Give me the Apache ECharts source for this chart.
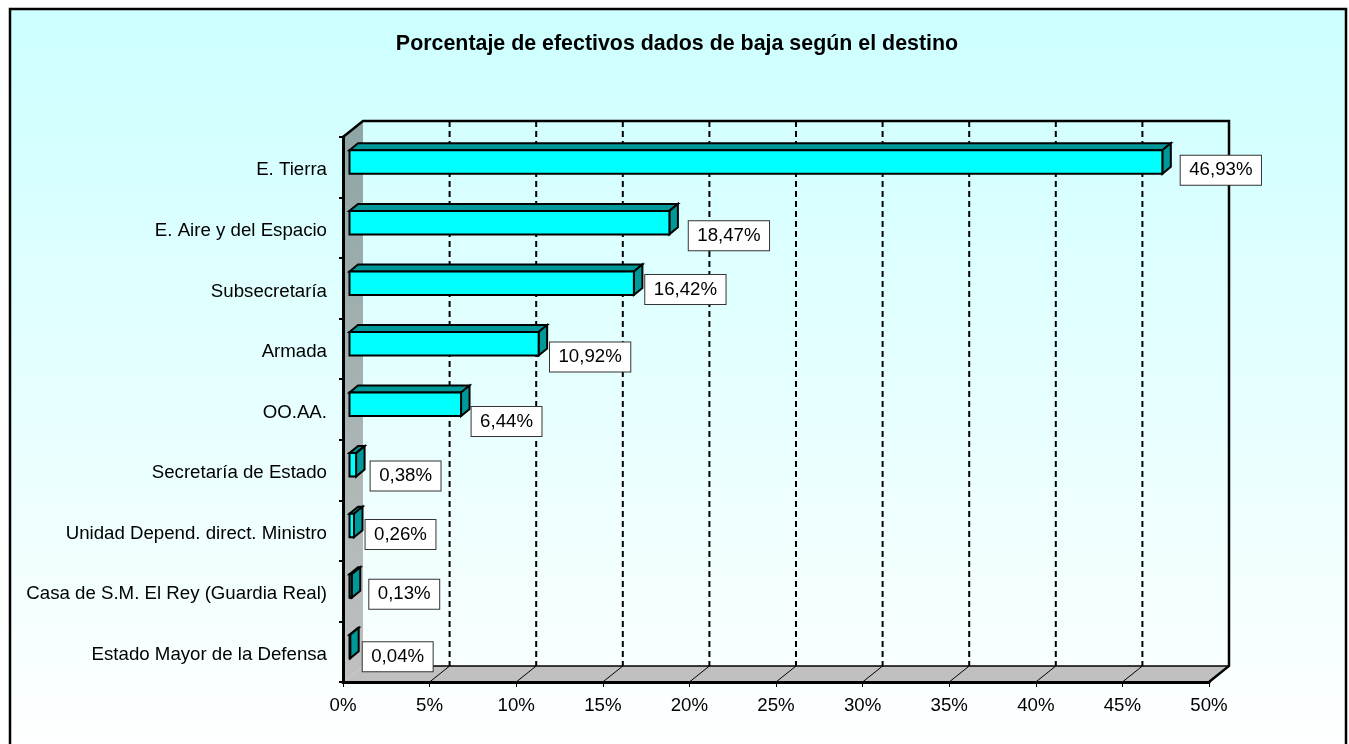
<!DOCTYPE html>
<html><head><meta charset="utf-8">
<style>html,body{margin:0;padding:0;background:#fff}#c{width:1349px;height:744px}</style>
<script src="https://cdn.jsdelivr.net/npm/echarts@6/dist/echarts.min.js"></script>
</head><body><div id="c"></div>
<script>
const titleText = 'Porcentaje de efectivos dados de baja según el destino';
const categories = ['E. Tierra','E. Aire y del Espacio','Subsecretaría','Armada','OO.AA.','Secretaría de Estado','Unidad Depend. direct. Ministro','Casa de S.M. El Rey (Guardia Real)','Estado Mayor de la Defensa'];
const values = [46.93,18.47,16.42,10.92,6.44,0.38,0.26,0.13,0.04];
const valueLabels = ['46,93%','18,47%','16,42%','10,92%','6,44%','0,38%','0,26%','0,13%','0,04%'];
const labelOffsetX = [65,66,58,58,52,56,53,59,54];
const labelOffsetY = [3,8,1,8,12,6,4,3,5];
const gridTicks = [5,10,15,20,25,30,35,40,45];

const DX = 20, DY = 16, FONT = '"Liberation Sans", Arial, sans-serif';
const BAR_SHIFT_X = 6.5, BAR_SHIFT_Y = 5.2, BAR_H = 23.5, BAR_DX = 8.5, BAR_DY = 7;

function poly(points, fill, stroke, lw, z){
  return {type:'polygon', z2:z||0, shape:{points}, style:{fill:fill, stroke:stroke||null, lineWidth:lw||0, lineJoin:'miter'}};
}
function line(x1,y1,x2,y2,lw,dash,z){
  return {type:'line', z2:z||0, shape:{x1,y1,x2,y2}, style:{stroke:'#000', lineWidth:lw, lineDash:dash||null, fill:null}};
}
function renderWalls(params, api){
  const cs = params.coordSys, L = cs.x, T = cs.y, B = cs.y+cs.height, R = cs.x+cs.width;
  const c = [];
  c.push(poly([[L,T],[L+DX,T-DY],[L+DX,B-DY],[L,B]],
    new echarts.graphic.LinearGradient(0,0,0,1,[{offset:0,color:'#8fa5a5'},{offset:1,color:'#c0c0c0'}])));
  c.push(poly([[L,B],[L+DX,B-DY],[R+DX,B-DY],[R,B]],'#c0c0c0'));
  gridTicks.forEach(t=>{
    const x = api.coord([t,0])[0];
    c.push(line(x+DX,T-DY,x+DX,B-DY,2,[6,4]));
    c.push(line(x,B,x+DX,B-DY,1));
  });
  c.push(line(L+DX,B-DY,R+DX,B-DY,1.5));
  c.push({type:'polyline', z2:2, shape:{points:[[L,T],[L+DX,T-DY],[R+DX,T-DY],[R+DX,B-DY],[R,B]]},
    style:{stroke:'#000',lineWidth:2.5,fill:null}});
  return {type:'group',children:c};
}
function renderBars(params, api){
  const i = api.value(1), p = api.coord([api.value(0), i]), o = api.coord([0, i]);
  const xa = o[0]+BAR_SHIFT_X, xb = p[0]+BAR_SHIFT_X, cy = p[1]-BAR_SHIFT_Y;
  const t = cy-BAR_H/2, b = cy+BAR_H/2;
  const s = '#000', dark = '#009999';
  return {type:'group',children:[
    poly([[xa,t],[xa+BAR_DX,t-BAR_DY],[xb+BAR_DX,t-BAR_DY],[xb,t]],dark,s,2),
    poly([[xb,t],[xb+BAR_DX,t-BAR_DY],[xb+BAR_DX,b-BAR_DY],[xb,b]],dark,s,2),
    poly([[xa,t],[xb,t],[xb,b],[xa,b]],'#00ffff',s,2)
  ]};
}
function renderLabels(params, api){
  const i = api.value(1), p = api.coord([api.value(0), i]);
  const cx = p[0]+labelOffsetX[i], cy = p[1]+labelOffsetY[i];
  return {type:'text', x:cx, y:cy, style:{text:valueLabels[i], fill:'#000', font:'18.67px '+FONT,
    align:'center', verticalAlign:'middle', lineHeight:21, backgroundColor:'#fff', borderColor:'#333', borderWidth:1,
    padding:[4,8.5,4,8.5]}};
}
const barData = values.map((v,i)=>[v,i]);
const chart = echarts.init(document.getElementById('c'),null,{renderer:'canvas'});
chart.setOption({
  animation:false,
  title:{show:true,text:titleText,left:672,top:29,textAlign:'center',textStyle:{fontFamily:FONT,fontSize:21.4,fontWeight:'bold',color:'#000'}},
  graphic:[{type:'rect',z:-100,shape:{x:10,y:9,width:1336,height:745},
    style:{fill:new echarts.graphic.LinearGradient(0,0,0,1,[{offset:0,color:'#ccffff'},{offset:1,color:'#ffffff'}]),stroke:'#000',lineWidth:2.5}}],
  grid:{left:343,right:140,top:137,bottom:62,containLabel:false},
  xAxis:{type:'value',min:0,max:50,interval:5,z:10,
    axisLine:{show:true,lineStyle:{color:'#000',width:3}},
    axisTick:{show:true,length:5,lineStyle:{color:'#000',width:1}},
    splitLine:{show:false},
    axisLabel:{margin:14,formatter:'{value}%',fontFamily:FONT,fontSize:18.67,color:'#000'}},
  yAxis:{type:'category',inverse:true,data:categories,z:10,
    axisLine:{show:true,onZero:false,lineStyle:{color:'#000',width:3}},
    axisTick:{show:true,length:4,alignWithLabel:false,lineStyle:{color:'#000',width:2}},
    splitLine:{show:false},
    axisLabel:{margin:16,fontFamily:FONT,fontSize:18.67,color:'#000',interval:0,verticalAlign:'top',lineHeight:6}},
  series:[
    {type:'custom',name:'walls',silent:true,z:1,data:[[0,0]],renderItem:renderWalls,encode:{x:0,y:1}},
    {type:'custom',name:'bars',z:3,data:barData,renderItem:renderBars,encode:{x:0,y:1}},
    {type:'custom',name:'labels',z:5,data:barData,renderItem:renderLabels,encode:{x:0,y:1}}
  ]
});
</script></body></html>
